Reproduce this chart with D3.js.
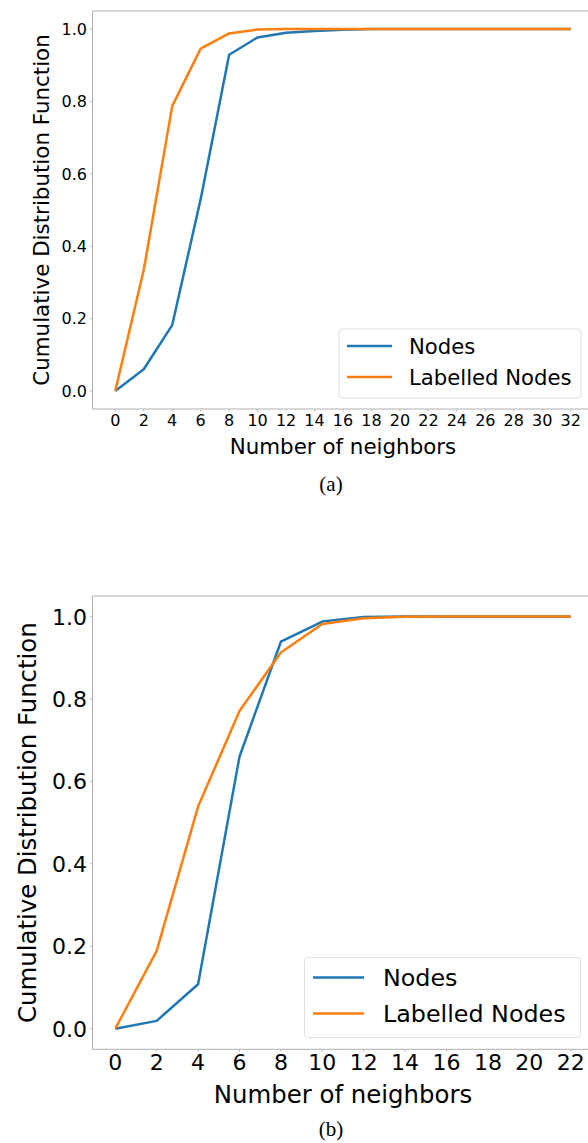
<!DOCTYPE html>
<html>
<head>
<meta charset="utf-8">
<script src="https://cdn.jsdelivr.net/npm/d3@7"></script>
<style>
  body { margin: 0; background: #fff; }
  svg { display: block; font-family: "DejaVu Sans", sans-serif; }
</style>
</head>
<body>
<svg id="chart" width="588" height="1143"></svg>
<script>
// panel (a)
var neighborsA = [0, 2, 4, 6, 8, 10, 12, 14, 16, 18, 20, 22, 24, 26, 28, 30, 32];
var nodesA     = [0, 0.06, 0.182, 0.53, 0.929, 0.977, 0.99, 0.995, 0.998, 1, 1, 1, 1, 1, 1, 1, 1];
var labelledA  = [0, 0.334, 0.787, 0.946, 0.988, 0.999, 1, 1, 1, 1, 1, 1, 1, 1, 1, 1, 1];
// panel (b)
var neighborsB = [0, 2, 4, 6, 8, 10, 12, 14, 16, 18, 20, 22];
var nodesB     = [0, 0.019, 0.108, 0.66, 0.939, 0.988, 0.999, 1, 1, 1, 1, 1];
var labelledB  = [0, 0.189, 0.539, 0.771, 0.913, 0.982, 0.996, 0.9995, 1, 1, 1, 1];

var yTicks = [0, 0.2, 0.4, 0.6, 0.8, 1.0];
var seriesNames = ["Nodes", "Labelled Nodes"];
var colors = ["#1f77b4", "#ff7f0e"];

var svg = d3.select("#chart");

function drawPanel(p) {
  var x = d3.scaleLinear().domain([-0.05 * p.xmax, 1.05 * p.xmax]).range([p.left, p.right]);
  var y = d3.scaleLinear().domain([-0.05, 1.05]).range([p.bottom, p.top]);
  var g = svg.append("g");

  // spines (right one falls outside the picture)
  g.append("path")
    .attr("d", "M" + p.right + "," + p.top + "H" + p.left + "V" + p.bottom + "H" + p.right)
    .attr("fill", "none").attr("stroke", "#b0b0b0").attr("stroke-width", 1);

  // x ticks
  var xt = g.append("g").selectAll("g").data(p.xs).enter().append("g")
    .attr("transform", function (d) { return "translate(" + x(d) + ",0)"; });
  xt.append("line").attr("y1", p.bottom).attr("y2", p.bottom + 2.5)
    .attr("stroke", "#b0b0b0").attr("stroke-width", 0.8);
  xt.append("text").attr("y", p.xTickBase).attr("text-anchor", "middle")
    .attr("font-size", p.tickFont).attr("fill", "#000")
    .text(function (d) { return d; });

  // y ticks
  var yt = g.append("g").selectAll("g").data(yTicks).enter().append("g")
    .attr("transform", function (d) { return "translate(0," + y(d) + ")"; });
  yt.append("line").attr("x1", p.left).attr("x2", p.left - 2.5)
    .attr("stroke", "#b0b0b0").attr("stroke-width", 0.8);
  yt.append("text").attr("x", p.left - 5.5).attr("dy", "0.36em").attr("text-anchor", "end")
    .attr("font-size", p.tickFont).attr("fill", "#000")
    .text(d3.format(".1f"));

  // lines
  var line = d3.line()
    .x(function (d) { return x(d[0]); })
    .y(function (d) { return y(d[1]); });
  [p.nodes, p.labelled].forEach(function (vals, i) {
    g.append("path")
      .datum(p.xs.map(function (v, j) { return [v, vals[j]]; }))
      .attr("fill", "none").attr("stroke", colors[i])
      .attr("stroke-width", 2.5).attr("stroke-linejoin", "round")
      .attr("d", line);
  });

  // axis titles
  g.append("text").attr("x", (p.left + p.right) / 2).attr("y", p.xLabelBase)
    .attr("text-anchor", "middle").attr("font-size", p.labelFont)
    .text("Number of neighbors");
  g.append("text")
    .attr("transform", "translate(" + p.yLabelX + "," + ((p.top + p.bottom) / 2) + ") rotate(-90)")
    .attr("text-anchor", "middle").attr("font-size", p.labelFont)
    .text("Cumulative Distribution Function");

  // legend
  var lg = g.append("g");
  lg.append("rect").attr("x", p.leg.x).attr("y", p.leg.y)
    .attr("width", p.leg.w).attr("height", p.leg.h).attr("rx", 3)
    .attr("fill", "#fff").attr("fill-opacity", 0.8)
    .attr("stroke", "#e0e0e0").attr("stroke-width", 1);
  seriesNames.forEach(function (name, i) {
    var ry = p.leg.row0 + i * p.leg.rowGap;
    lg.append("line").attr("x1", p.leg.lx1).attr("x2", p.leg.lx2)
      .attr("y1", ry).attr("y2", ry)
      .attr("stroke", colors[i]).attr("stroke-width", 2.5);
    lg.append("text").attr("x", p.leg.tx).attr("y", ry).attr("dy", "0.37em")
      .attr("font-size", p.legFont).text(name);
  });

  // caption
  svg.append("text").attr("x", 331).attr("y", p.captionBase)
    .attr("text-anchor", "middle").attr("font-size", 21)
    .attr("font-family", "'Liberation Serif', 'Times New Roman', serif")
    .text(p.caption);
}

drawPanel({
  xs: neighborsA, nodes: nodesA, labelled: labelledA, xmax: 32,
  left: 92.5, right: 593.5, top: 11, bottom: 409,
  tickFont: 16, labelFont: 21.4, legFont: 21.2,
  xTickBase: 426, xLabelBase: 454, yLabelX: 49,
  leg: { x: 339, y: 329, w: 242, h: 69, row0: 346, rowGap: 31, lx1: 347, lx2: 392, tx: 409 },
  caption: "(a)", captionBase: 491
});

drawPanel({
  xs: neighborsB, nodes: nodesB, labelled: labelledB, xmax: 22,
  left: 92.5, right: 593.5, top: 596, bottom: 1049.3,
  tickFont: 22, labelFont: 24.4, legFont: 23.8,
  xTickBase: 1070, xLabelBase: 1103, yLabelX: 36,
  leg: { x: 304.5, y: 957.5, w: 276, h: 80, row0: 977.5, rowGap: 36, lx1: 313, lx2: 364, tx: 383 },
  caption: "(b)", captionBase: 1136
});
</script>
</body>
</html>
